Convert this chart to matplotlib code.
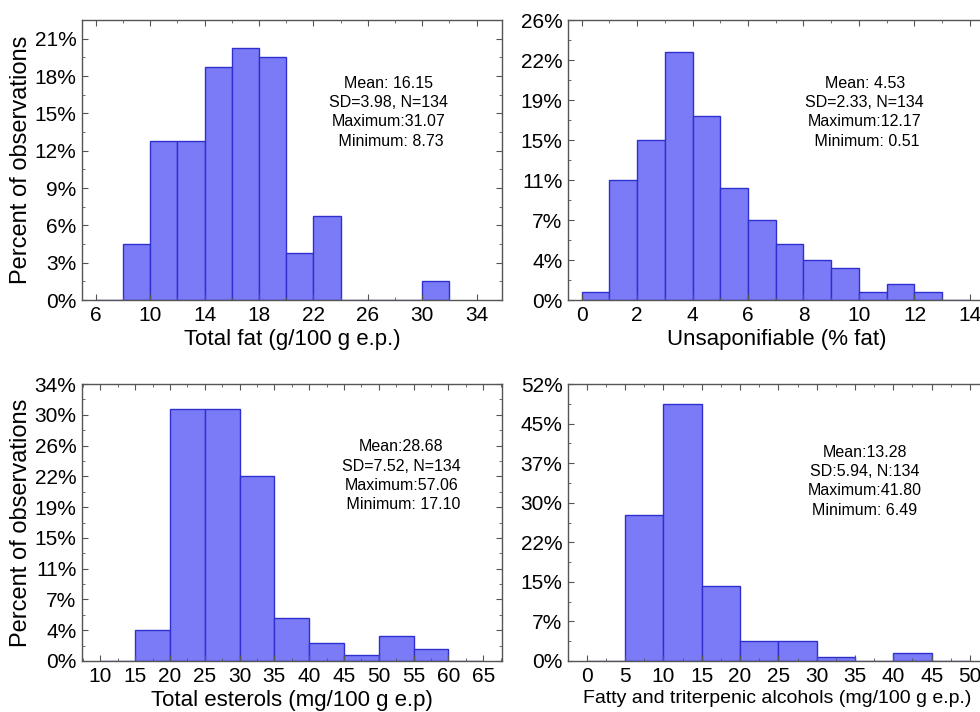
import matplotlib.pyplot as plt
from matplotlib.ticker import FixedLocator, MultipleLocator

plt.rcParams["font.family"] = ["Liberation Sans", "DejaVu Sans"]

N = 134

# counts per bin (percent = count / N)
fat_edges = [6, 8, 10, 12, 14, 16, 18, 20, 22, 24, 26, 28, 30, 32]
fat_counts = [0, 6, 17, 17, 25, 27, 26, 5, 9, 0, 0, 0, 2]

unsap_edges = [0, 1, 2, 3, 4, 5, 6, 7, 8, 9, 10, 11, 12, 13, 14]
unsap_counts = [1, 15, 20, 31, 23, 14, 10, 7, 5, 4, 1, 2, 1, 0]

ster_edges = [10, 15, 20, 25, 30, 35, 40, 45, 50, 55, 60, 65]
ster_counts = [0, 5, 41, 41, 30, 7, 3, 1, 4, 2, 0]

alc_edges = [0, 5, 10, 15, 20, 25, 30, 35, 40, 45, 50]
alc_counts = [0, 37, 65, 19, 5, 5, 1, 0, 2, 0]

fat_yticks = ["0%", "3%", "6%", "9%", "12%", "15%", "18%", "21%"]
unsap_yticks = ["0%", "4%", "7%", "11%", "15%", "19%", "22%", "26%"]
ster_yticks = ["0%", "4%", "7%", "11%", "15%", "19%", "22%", "26%", "30%", "34%"]
alc_yticks = ["0%", "7%", "15%", "22%", "30%", "37%", "45%", "52%"]

fat_text = "Mean: 16.15\nSD=3.98, N=134\nMaximum:31.07\n Minimum: 8.73"
unsap_text = "Mean: 4.53\nSD=2.33, N=134\nMaximum:12.17\n Minimum: 0.51"
ster_text = "Mean:28.68\nSD=7.52, N=134\nMaximum:57.06\n Minimum: 17.10"
alc_text = "Mean:13.28\nSD:5.94, N:134\nMaximum:41.80\nMinimum: 6.49"

FACE = "#7b7bf7"
EDGE = "#2f2fcf"
SPINE = "#555555"


def hist_panel(ax, edges, counts, ystep, ylabels, ymax, xlim, xmajor, xminor,
               xlabel, note, note_xy, xlabel_size=16, xoffset=0):
    pct = [c / N * 100 for c in counts]
    widths = [edges[i + 1] - edges[i] for i in range(len(counts))]
    ax.bar(edges[:-1], pct, width=widths, align="edge", color=FACE,
           edgecolor=EDGE, linewidth=1.0)
    ax.set_xlim(*xlim)
    ax.set_ylim(0, ymax / N * 100)
    yt = [k * ystep / N * 100 for k in range(len(ylabels))]
    ax.yaxis.set_major_locator(FixedLocator(yt))
    ax.set_yticklabels(ylabels)
    ax.yaxis.set_minor_locator(FixedLocator(
        [(k + 0.5) * ystep / N * 100 for k in range(len(ylabels))]))
    ax.xaxis.set_major_locator(MultipleLocator(xmajor, offset=xoffset))
    ax.xaxis.set_minor_locator(MultipleLocator(xminor))
    ax.tick_params(which="both", direction="in", top=True, right=True,
                   color=SPINE, labelsize=15, pad=4)
    ax.tick_params(which="major", length=4)
    ax.tick_params(which="minor", length=2)
    for s in ax.spines.values():
        s.set_color(SPINE)
        s.set_linewidth(1.0)
    ax.set_xlabel(xlabel, fontsize=xlabel_size, labelpad=3)
    ax.text(*note_xy, note, transform=ax.transAxes, ha="center", va="top",
            multialignment="center", fontsize=11.5, linespacing=1.35)


fig = plt.figure(figsize=(9.8, 7.12), dpi=100)
W, H = 980, 712


def rect(l, r, t, b):
    return [l / W, (H - b) / H, (r - l) / W, (b - t) / H]


ax1 = fig.add_axes(rect(82, 502, 20, 300))
ax2 = fig.add_axes(rect(568, 986, 20, 300))
ax3 = fig.add_axes(rect(82, 502, 384, 661))
ax4 = fig.add_axes(rect(568, 986, 384, 661))

hist_panel(ax1, fat_edges, fat_counts, 4, fat_yticks, 30, (4.99, 35.86), 4, 2,
           "Total fat (g/100 g e.p.)", fat_text, (0.73, 0.80), xoffset=2)
hist_panel(ax2, unsap_edges, unsap_counts, 5, unsap_yticks, 35, (-0.49, 14.58), 2, 1,
           "Unsaponifiable (% fat)", unsap_text, (0.71, 0.80))
hist_panel(ax3, ster_edges, ster_counts, 5, ster_yticks, 45, (7.37, 67.7), 5, 2.5,
           "Total esterols (mg/100 g e.p)", ster_text, (0.76, 0.80))
hist_panel(ax4, alc_edges, alc_counts, 10, alc_yticks, 70, (-2.44, 52.09), 5, 2.5,
           "Fatty and triterpenic alcohols (mg/100 g e.p.)", alc_text, (0.71, 0.78),
           xlabel_size=14)

ax1.set_ylabel("Percent of observations", fontsize=17, labelpad=2)
ax3.set_ylabel("Percent of observations", fontsize=17, labelpad=2)

fig.savefig("out.png", dpi=100)
